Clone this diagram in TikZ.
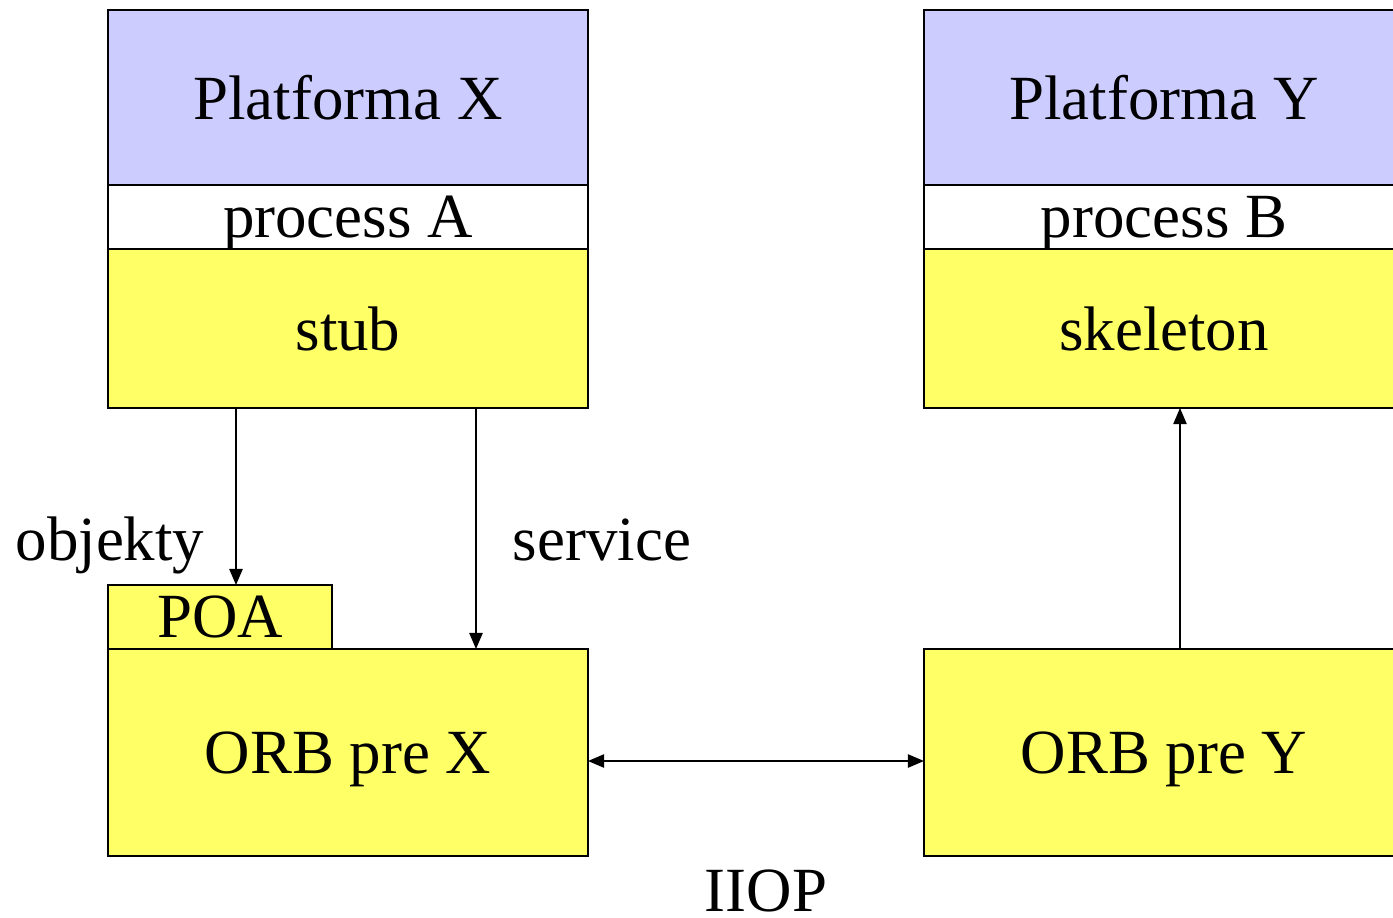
\documentclass[tikz,border=0pt]{standalone}
\usepackage{fontspec}
\setmainfont{Liberation Serif}
\usetikzlibrary{positioning,arrows.meta}
\definecolor{platblue}{HTML}{CCCCFF}
\definecolor{orbyellow}{HTML}{FFFF66}

\begin{document}
\begin{tikzpicture}
\tikzset{box/.style={draw, line width=0.6pt, rectangle, inner sep=0pt, outer sep=0pt,
		minimum width=4.8cm, text depth=0pt, font=\fontsize{17.9}{20}\selectfont},
	lbl/.style={anchor=base, inner sep=0pt, font=\fontsize{17.9}{20}\selectfont},
	arr/.style={line width=0.45pt, -{Triangle[length=4.6pt,width=3.8pt]}},
	biarr/.style={line width=0.45pt, {Triangle[length=4.6pt,width=3.8pt]}-{Triangle[length=4.6pt,width=3.8pt]}}}
\useasboundingbox (0,0) rectangle (13.93,-9.17);
\clip (0,0) rectangle (13.93,-9.17);
				% left side
				\node[box, fill=platblue, minimum height=1.75cm] (platX) at (3.48,-0.975) {Platforma X};
				\node[box, fill=white, minimum height=0.64cm, below=0pt of platX] (procA) {process A};
				\node[box, fill=orbyellow, minimum height=1.59cm, below=0pt of procA] (stub) {stub};
				\node[box, fill=orbyellow, minimum height=2.07cm] (orbX) at (3.48,-7.525) {ORB pre X};
				\node[box, fill=orbyellow, minimum width=2.24cm, minimum height=0.64cm,
					above right=0pt of orbX.north west] (poa) {POA};
				% right side
				\node[box, fill=platblue, minimum height=1.75cm] (platY) at (11.64,-0.975) {Platforma Y};
				\node[box, fill=white, minimum height=0.64cm, below=0pt of platY] (procB) {process B};
				\node[box, fill=orbyellow, minimum height=1.59cm, below=0pt of procB] (skel) {skeleton};
				\node[box, fill=orbyellow, minimum height=2.07cm] (orbY) at (11.64,-7.525) {ORB pre Y};
				% connectors
				\draw[arr] ([xshift=1.28cm]stub.south west) -- ([xshift=1.28cm]stub.south west |- poa.north);
				\draw[arr] ([xshift=3.68cm]stub.south west) -- ([xshift=3.68cm]stub.south west |- orbX.north);
				\draw[arr] ([xshift=0.16cm]orbY.north) -- ([xshift=0.16cm]orbY.north |- skel.south);
				\draw[biarr] ([yshift=-0.085cm]orbX.east) -- ([yshift=-0.085cm]orbY.west);
				% labels
				\node[lbl] (objekty) at (1.10,-5.60) {objekty};
				\node[lbl] (service) at (6.02,-5.60) {service};
				\node[lbl] (iiop) at (7.66,-9.11) {IIOP};
\end{tikzpicture}
\end{document}
